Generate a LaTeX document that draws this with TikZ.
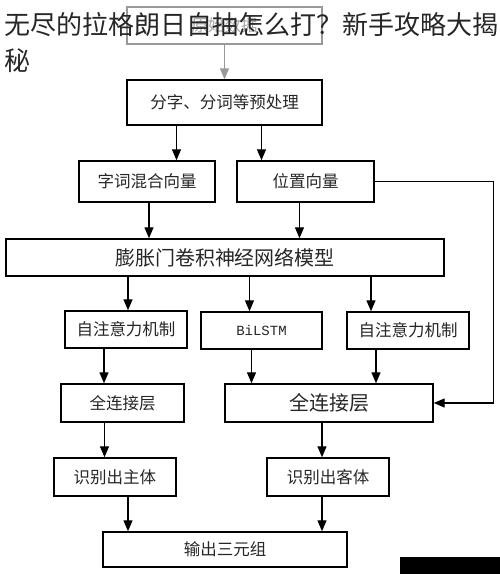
\documentclass[tikz,border=0pt]{standalone}
\usepackage{fontspec}
\setmainfont{Noto Sans CJK SC}
\newfontfamily\latinmono{Liberation Mono}
\usetikzlibrary{arrows.meta}

\begin{document}
\begin{tikzpicture}[x=1pt,y=-1pt,
		box/.style={draw, line width=1.4pt, inner sep=0pt, text=black!85, font=\fontsize{16.5}{18}\selectfont},
		graybox/.style={box, draw=black!40, line width=1.2pt, text=black!35},
		arr/.style={-{Triangle[width=9pt,length=11pt]}, line width=1.3pt},
		grayarr/.style={arr, draw=black!40, fill=black!40}]
		\useasboundingbox (0,0) rectangle (500,574);
		
		\node[graybox, minimum width=195, minimum height=37] (src) at (224.5,25.5) {原始数据};
		\node[box, minimum width=195, minimum height=45] (prep) at (224.5,102.5) {分字、分词等预处理};
		\node[box, minimum width=136, minimum height=41] (mix) at (147,181.5) {字词混合向量};
		\node[box, minimum width=137, minimum height=41] (pos) at (305.5,181.5) {位置向量};
		\node[box, minimum width=438, minimum height=37, font=\fontsize{20}{22}\selectfont] (dgcnn) at (225,257.5) {膨胀门卷积神经网络模型};
		
		\node[box, minimum width=122, minimum height=37] (attl) at (126,329.5) {自注意力机制};
		\node[box, minimum width=121, minimum height=37, font=\latinmono\fontsize{14}{16}\selectfont] (bilstm) at (261.5,330.5) {BiLSTM};
		\node[box, minimum width=122, minimum height=37] (attr) at (408,330.5) {自注意力机制};
		
		\node[box, minimum width=123, minimum height=38] (fcl) at (122.5,403) {全连接层};
		\node[box, minimum width=208, minimum height=38, font=\fontsize{20}{22}\selectfont] (fcr) at (329,403) {全连接层};
		\node[box, minimum width=122, minimum height=38] (subj) at (115,477) {识别出主体};
		\node[box, minimum width=122, minimum height=38] (obj) at (328,477) {识别出客体};
		\node[box, minimum width=244, minimum height=35] (out) at (225,549.5) {输出三元组};
		
		\draw[grayarr] (src) -- (prep);
		\draw[arr] ([xshift=-48pt]prep.south) -- ([xshift=-48pt]prep.south |- mix.north);
		\draw[arr] ([xshift=37pt]prep.south) -- ([xshift=37pt]prep.south |- pos.north);
		\draw[arr] ([xshift=2pt]mix.south) -- ([xshift=2pt]mix.south |- dgcnn.north);
		\draw[arr] ([xshift=-6pt]pos.south) -- ([xshift=-6pt]pos.south |- dgcnn.north);
		
		\draw[arr] ([xshift=2pt]attl.north |- dgcnn.south) -- ([xshift=2pt]attl.north);
		\draw[arr] ([xshift=-12pt]bilstm.north |- dgcnn.south) -- ([xshift=-12pt]bilstm.north);
		\draw[arr] ([xshift=-37pt]attr.north |- dgcnn.south) -- ([xshift=-37pt]attr.north);
		
		\draw[arr] ([xshift=-22pt]attl.south) -- ([xshift=-22pt]attl.south |- fcl.north);
		\draw[arr] ([xshift=-10pt]bilstm.south) -- ([xshift=-10pt]bilstm.south |- fcr.north);
		\draw[arr] ([xshift=-32pt]attr.south) -- ([xshift=-32pt]attr.south |- fcr.north);
		\draw[arr] (pos.east) -- ++(119,0) |- (fcr.east);
		
		\draw[arr] ([xshift=-18pt]fcl.south) -- ([xshift=-18pt]fcl.south |- subj.north);
		\draw[arr] ([xshift=-7pt]fcr.south) -- ([xshift=-7pt]fcr.south |- obj.north);
		\draw[arr] ([xshift=13pt]subj.south) -- ([xshift=13pt]subj.south |- out.north);
		\draw[arr] ([xshift=-6pt]obj.south) -- ([xshift=-6pt]obj.south |- out.north);
		
		% title laid over the figure
		\node[anchor=base west, inner sep=0pt, align=left, text=black!85, font=\fontsize{26}{36}\selectfont] (title) at (4,70) {无尽的拉格朗日自抽怎么打？新手攻略大揭\\秘};
		\fill[black] (400,557) rectangle (500,574);
		
	\end{tikzpicture}
\end{document}
